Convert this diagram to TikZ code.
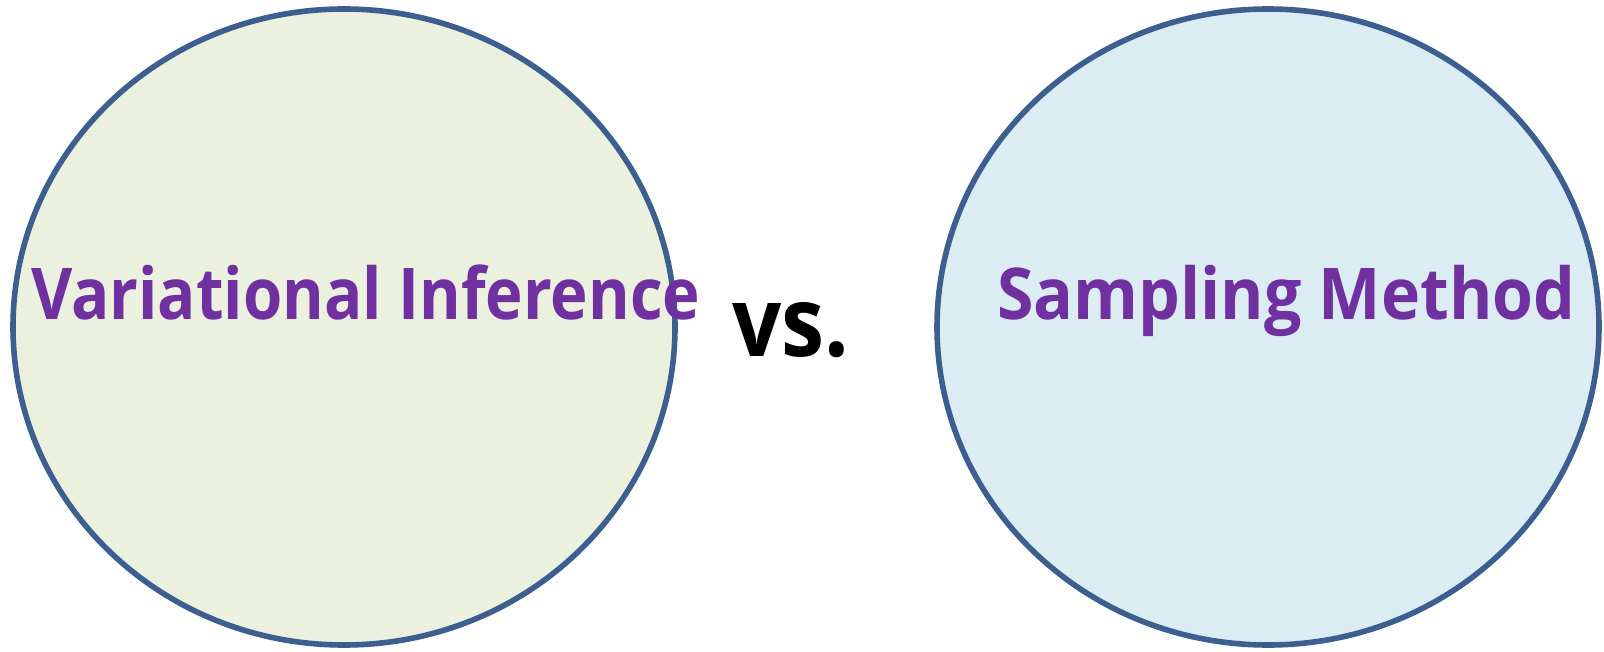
\documentclass[tikz,border=0pt]{standalone}
\usepackage{fontspec}
\setmainfont{Open Sans}
\usepackage{graphicx}
\definecolor{rimblue}{HTML}{3C5F8F}
\definecolor{leftfill}{HTML}{EBF0DF}
\definecolor{rightfill}{HTML}{DBEDF3}
\definecolor{labelpurple}{HTML}{7030A0}
% scale a bold label to a given ink width and reference-letter height
\newcommand\fitlabel[4]{%
  \sbox0{\bfseries #4}\sbox2{\bfseries #3}%
  \pgfmathsetmacro\fitx{#1/\wd0}\pgfmathsetmacro\fity{#2/\ht2}%
  \scalebox{\fitx}[\fity]{\usebox0}}
\begin{document}
\begin{tikzpicture}[x=0.5pt,y=-0.5pt,
  bubble/.style={line width=2.8pt,draw=rimblue},
  title/.style={inner sep=0pt,anchor=base west,text=labelpurple}]
\useasboundingbox (0,0) rectangle (1604,652);
\path[bubble,fill=leftfill] (344,327) ellipse [x radius=331,y radius=318];
\path[bubble,fill=rightfill] (1268,327) ellipse [x radius=331,y radius=318];
\node[coordinate] (lc) at (344,327) {};
\node[coordinate] (rc) at (1268,327) {};
\node[title] (vi) at (31,319) {\fitlabel{334.5pt}{25.5pt}{H}{Variational Inference}};
\node[title] (sm) at (997,319) {\fitlabel{289pt}{25.5pt}{H}{Sampling Method}};
\node[inner sep=0pt,anchor=base west] (vs) at (732,356) {\fitlabel{58.5pt}{26.5pt}{v}{vs.}};
\end{tikzpicture}
\end{document}
